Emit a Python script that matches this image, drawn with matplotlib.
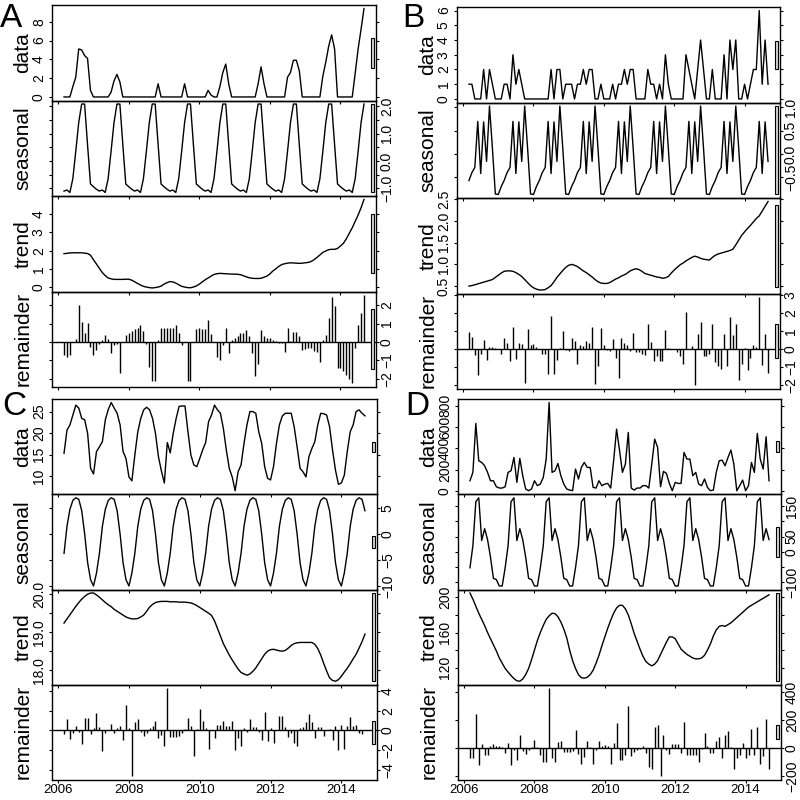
import numpy as np
import matplotlib
matplotlib.use("Agg")
import matplotlib.pyplot as plt
from matplotlib.patches import Rectangle

plt.rcParams['font.family'] = ['Liberation Sans', 'DejaVu Sans']

# ---------------- time axis (monthly, Mar 2006 .. Sep 2014) ----------------
first_month = 2006 + 2 / 12
n_months = 103
months = first_month + np.arange(n_months) / 12.0

x_ticks = [2006, 2008, 2010, 2012, 2014]
x_tick_labels = ['2006', '2008', '2010', '2012', '2014']
panel_names = ['data', 'seasonal', 'trend', 'remainder']

# ================= A =================
A_data = [0, 0, 0, 1.1, 2.1, 5.1, 5.0, 4.4, 4.1, 0.7,
          0, 0, 0, 0, 0, 0, 0.5, 1.7, 2.4, 1.6, 0, 0,
          0, 0, 0, 0, 0, 0, 0, 0, 0, 0, 1.4, 0,
          0, 0, 0, 0, 0, 0, 0, 1.4, 0, 0, 0, 0,
          0, 0, 0, 0.7, 0.2, 0, 0, 1.1, 2.6, 3.5, 1.4, 0,
          0, 0, 0, 0, 0, 0, 0, 0, 1.4, 3.2, 1.4, 0,
          0, 0, 0, 0, 0, 0, 2.1, 2.6, 3.9, 3.9, 2.8, 0,
          0, 0, 0, 0, 0, 0, 2.2, 3.7, 5.4, 6.6, 5.1, 0,
          0, 0, 0, 0, 0, 2.5, 5.1, 7.2, 9.4]
A_seasonal_cycle = [-1.10, -1.06, -1.15, -0.65, 0.35, 1.40, 2.08, 2.08, 0.60, -0.84, -0.94, -1.03]
A_trend = [1.83, 1.85, 1.87, 1.88, 1.88, 1.88, 1.88, 1.86, 1.84, 1.75,
           1.5, 1.27, 1.03, 0.8, 0.63, 0.5, 0.45, 0.42, 0.42, 0.42, 0.42, 0.43,
           0.43, 0.38, 0.29, 0.2, 0.11, 0.04, 0.0, -0.03, -0.05, -0.03, 0.0, 0.05,
           0.16, 0.24, 0.3, 0.28, 0.22, 0.13, 0.04, 0.0, -0.03, -0.04, 0.0, 0.06,
           0.16, 0.28, 0.4, 0.5, 0.6, 0.69, 0.73, 0.75, 0.74, 0.73, 0.72, 0.71,
           0.71, 0.7, 0.68, 0.62, 0.56, 0.51, 0.48, 0.47, 0.47, 0.48, 0.54, 0.6,
           0.72, 0.88, 1.0, 1.13, 1.23, 1.28, 1.31, 1.33, 1.32, 1.31, 1.3, 1.31,
           1.33, 1.35, 1.4, 1.5, 1.62, 1.76, 1.9, 1.98, 2.05, 2.07, 2.07, 2.12,
           2.25, 2.4, 2.65, 2.95, 3.25, 3.6, 3.95, 4.35, 4.8]
A_remainder = [-0.72, -0.8, -0.7, 0.0, 0.15, 2.0, 1.1, 0.5, 1.05, -0.25,
               -0.7, -0.45, -0.1, 0.1, 0.4, 0.15, -0.6, -0.15, -0.1, -1.7, 0.0, 0.4,
               0.5, 0.6, 0.7, 0.75, 0.95, 0.6, -0.1, -1.35, -2.1, -2.1, 0.1, 0.75,
               0.75, 0.75, 0.75, 0.75, 0.9, 0.5, -0.15, 0.0, -2.1, -2.1, 0.0, 0.7,
               0.75, 0.7, 0.7, 1.2, 0.45, 0.0, -0.8, -1.0, -0.15, 0.75, -0.6, 0.1,
               0.2, 0.35, 0.5, 0.5, 0.65, 0.35, -0.6, -1.85, -1.2, 0.65, 0.3, 0.2,
               0.2, 0.1, 0.05, -0.05, -0.05, -0.55, 0.75, 0.05, 0.55, 0.55, 0.3, -0.45,
               -0.4, -0.35, -0.35, -0.5, -0.55, -1.1, 0.1, 0.4, 1.3, 2.45, 1.95, -1.4,
               -1.4, -1.6, -1.8, -2.0, -2.25, -0.35, 0.95, 1.55, 2.55]
A_yticks = [[0, 2, 4, 6, 8], [-1, -0.5, 0, 0.5, 1, 1.5, 2], [0, 1, 2, 3, 4], [-2, -1, 0, 1, 2]]
A_ylabels = [['0', '2', '4', '6', '8'], ['\u22121.0', '', '0.0', '', '1.0', '', '2.0'],
             ['0', '1', '2', '3', '4'], ['\u22122', '\u22121', '0', '1', '2']]

# ================= B =================
B_data = [1, 1, 0, 0, 0, 2, 0, 2, 1, 0,
          0, 0, 1, 1, 0, 3, 1, 2, 1, 0, 0, 0,
          0, 0, 0, 0, 0, 0, 2, 0, 2, 2, 0, 1,
          1, 1, 0, 1, 1, 2, 1, 2, 2, 0, 0, 1,
          0, 0, 0, 1, 0, 1, 1, 2, 1, 2, 2, 0,
          0, 0, 0, 2, 1, 1, 0, 1, 0, 3, 1, 0,
          0, 0, 0, 0, 3, 2, 1, 0, 2, 4, 2, 0,
          0, 2, 0, 0, 0, 3, 0, 4, 2, 4, 0, 0,
          1, 0, 1, 2, 2, 6, 1, 4, 1]
B_seasonal_cycle = [-0.57, -0.40, -0.29, 0.70, -0.42, 0.69, -0.16, 1.03, 0.12, -0.86, -0.87, -0.70]
B_trend = [0.50, 0.51, 0.53, 0.55, 0.57, 0.59, 0.61, 0.63, 0.65, 0.7,
           0.75, 0.8, 0.84, 0.85, 0.85, 0.84, 0.81, 0.77, 0.72, 0.65, 0.58, 0.51,
           0.46, 0.43, 0.41, 0.41, 0.42, 0.46, 0.51, 0.6, 0.7, 0.78, 0.86, 0.93,
           0.98, 1.0, 0.98, 0.95, 0.9, 0.85, 0.81, 0.76, 0.71, 0.65, 0.6, 0.57,
           0.56, 0.56, 0.58, 0.62, 0.66, 0.69, 0.73, 0.76, 0.8, 0.85, 0.88, 0.9,
           0.88, 0.84, 0.79, 0.77, 0.75, 0.73, 0.71, 0.7, 0.68, 0.69, 0.72, 0.8,
           0.87, 0.93, 0.99, 1.03, 1.08, 1.12, 1.16, 1.19, 1.17, 1.14, 1.12, 1.11,
           1.1, 1.16, 1.21, 1.24, 1.26, 1.28, 1.3, 1.32, 1.35, 1.45, 1.56, 1.67,
           1.75, 1.83, 1.9, 1.98, 2.06, 2.12, 2.23, 2.34, 2.45]
B_remainder = [0.93, 0.63, -0.35, -1.45, -0.3, 0.5, -0.6, 0.1, 0.1, 0.05,
               0.0, -0.28, 0.6, 0.32, -0.68, 1.22, -0.55, 0.3, 0.25, -1.92, 1.1, 0.2,
               0.28, 0.08, 0.0, -0.3, -0.3, -1.38, 1.8, -1.38, -0.6, 0.05, 1.0, -0.05,
               -0.1, 0.62, 0.45, -0.85, 0.2, 0.15, 0.45, 0.3, 1.2, -1.97, -0.95, 1.15,
               0.2, -0.05, -0.1, 0.55, -0.5, -1.6, 0.58, 0.3, 0.2, -0.1, 0.85, -0.15,
               -0.15, -0.3, -0.35, 1.35, 0.4, -0.7, -0.4, -0.65, -0.7, 1.05, 0.02, 0.0,
               0.0, -0.2, -0.4, -0.85, 2.05, 0.0, 0.15, -2.03, 0.8, 1.5, -0.4, -0.38,
               -0.3, 1.4, -0.75, -0.95, -1.1, 0.8, -0.95, 1.75, 0.75, 1.35, -1.75, -0.85,
               0.05, -1.2, -0.5, 0.2, 0.1, 2.87, -0.9, 0.8, -1.35]
B_yticks = [[0, 1, 2, 3, 4, 5, 6], [-0.5, 0, 0.5, 1.0], [0.5, 1.0, 1.5, 2.0, 2.5], [-2, -1, 0, 1, 2, 3]]
B_ylabels = [['0', '1', '2', '3', '4', '5', '6'], ['\u22120.5', '0.0', '0.5', '1.0'],
             ['0.5', '1.0', '1.5', '2.0', '2.5'], ['\u22122', '\u22121', '0', '1', '2', '3']]

# ================= C =================
C_data = [15.3, 20.7, 21.9, 24.2, 26.5, 25.8, 23.4, 23.1, 19.9, 11.8,
          10.5, 15.7, 16.8, 18.0, 23.1, 25.5, 27.1, 25.8, 24.6, 21.9, 15.7, 14.1,
          9.8, 8.9, 14.9, 20.3, 23.4, 25.4, 26.0, 25.4, 23.4, 19.9, 14.5, 11.2,
          8.4, 17.8, 15.4, 19.9, 23.4, 26.2, 26.3, 26.3, 20.3, 14.9, 12.6, 12.2,
          14.1, 16.1, 17.8, 22.7, 24.2, 26.5, 25.4, 24.6, 21.1, 16.1, 11.8, 9.8,
          6.6, 11.0, 12.6, 17.6, 21.9, 25.0, 25.0, 24.6, 20.3, 17.6, 12.2, 9.5,
          9.1, 12.2, 17.6, 21.9, 24.0, 24.6, 24.6, 24.6, 21.5, 16.8, 11.8, 11.0,
          9.8, 14.5, 16.4, 18.0, 21.9, 24.6, 24.5, 24.2, 21.5, 16.1, 11.4, 8.1,
          8.4, 10.2, 15.7, 20.3, 21.9, 25.0, 25.4, 24.6, 24.0]
C_seasonal_cycle = [-3.7, 1.5, 4.8, 6.5, 7.0, 6.7, 4.5, 0.0, -5.5, -8.8, -10.0, -7.5]
C_trend = [19.24, 19.35, 19.46, 19.57, 19.68, 19.78, 19.87, 19.94, 20.0, 20.03,
           20.03, 19.98, 19.92, 19.85, 19.78, 19.72, 19.67, 19.6, 19.55, 19.5, 19.45, 19.4,
           19.37, 19.35, 19.35, 19.36, 19.4, 19.45, 19.55, 19.66, 19.73, 19.78, 19.8, 19.81,
           19.81, 19.81, 19.8, 19.8, 19.8, 19.79, 19.79, 19.79, 19.78, 19.77, 19.74, 19.7,
           19.65, 19.6, 19.55, 19.5, 19.44, 19.3, 19.1, 18.9, 18.7, 18.55, 18.4, 18.27,
           18.15, 18.03, 17.94, 17.9, 17.87, 17.9, 17.97, 18.06, 18.18, 18.3, 18.42, 18.5,
           18.54, 18.55, 18.53, 18.51, 18.5, 18.52, 18.58, 18.65, 18.7, 18.72, 18.73, 18.73,
           18.73, 18.73, 18.73, 18.68, 18.57, 18.4, 18.18, 17.98, 17.8, 17.73, 17.71, 17.75,
           17.84, 17.95, 18.05, 18.17, 18.3, 18.42, 18.58, 18.75, 18.95]
C_remainder = [-0.35, 1.2, -0.9, -0.25, 0.4, -0.2, -1.4, 1.3, 1.3, -0.35,
               0.25, 1.75, 0.35, -2.1, -0.3, 0.0, 0.7, -0.25, 0.2, 0.5, -1.0, 2.6,
               0.25, -4.7, 0.85, 1.15, -0.2, -0.6, -0.3, 0.2, 0.4, 1.0, -0.75, -0.5,
               -1.6, 4.3, -0.65, -0.65, -0.65, -0.6, -0.3, 0.1, 1.3, 0.5, -2.6, 0.1,
               2.2, 1.0, 0.2, -1.9, 0.0, -0.8, 0.6, 0.55, 1.0, 0.4, 0.4, 1.0,
               -2.0, -0.8, -1.6, 0.2, -0.2, 1.2, 0.3, 0.3, -0.2, -1.0, 1.85, -1.1,
               0.2, -1.3, 0.05, 1.5, 1.5, 0.35, -0.65, -0.3, -1.3, -1.6, 0.25, 0.35,
               0.9, 1.7, 0.9, -0.8, 0.3, 0.3, -0.6, 0.0, 0.15, -1.0, 0.5, -2.0,
               0.55, -1.85, 0.5, 1.4, 0.4, 0.6, -0.3, -0.4, 0.0]
C_yticks = [[10, 15, 20, 25], [-10, -5, 0, 5], [18.0, 18.5, 19.0, 19.5, 20.0], [-4, -2, 0, 2, 4]]
C_ylabels = [['10', '15', '20', '25'], ['\u221210', '\u22125', '0', '5'],
             ['18.0', '', '19.0', '', '20.0'], ['\u22124', '\u22122', '0', '2', '4']]

# ================= D =================
D_data = [99, 177, 633, 285, 270, 239, 177, 99, 99, 43,
          31, 31, 43, 177, 192, 316, 84, 307, 146, 22, 6, 22,
          99, 53, 68, 130, 301, 828, 177, 192, 260, 146, 68, 22,
          12, 6, 208, 115, 223, 270, 223, 223, 37, 31, 99, 53,
          68, 74, 31, 285, 580, 385, 177, 254, 549, 31, 12, 31,
          31, 53, 53, 31, 254, 487, 409, 43, 186, 167, 74, 6,
          84, 74, 74, 363, 301, 301, 146, 177, 68, 53, 115, 37,
          6, 12, 177, 285, 291, 239, 316, 385, 254, 6, 53, 105,
          6, 53, 270, 177, 540, 301, 208, 509, 99]
D_seasonal_cycle = [-53, 20, 165, 178, 37, 76, 40, -18, -88, -92, -113, -113]
D_trend = [205, 198, 190, 182, 175, 168, 160, 153, 146, 139,
           131, 125, 119, 115, 111, 107.5, 105, 104.5, 107, 112, 119, 129,
           140, 151, 160, 168, 175, 179, 182, 181.5, 178, 172, 164, 154,
           140, 128, 119, 112, 108.5, 108, 109, 112, 117, 125, 134, 145,
           155, 165, 174, 182, 188, 191, 191, 187, 180, 170, 159, 150,
           141, 133, 127, 124, 122, 124, 128, 135, 142, 149, 155, 155,
           153, 147, 141, 138, 135, 133, 131, 130, 130, 131, 134, 140,
           147, 156, 163, 167, 168, 167, 169, 171, 174, 177, 180, 183,
           186, 189, 191, 193, 195, 197, 199, 201, 203]
D_remainder = [-65, -65, 245, -115, 30, -45, -45, 20, 35, 15,
               15, 10, -30, 40, -120, -10, -85, 95, -20, -40, -10, 10,
               60, 10, -50, -95, -95, 430, -70, -95, 45, 50, -25, -25,
               -25, -20, 130, -40, -110, -60, 50, 10, -110, -10, 50, 15,
               25, 15, -110, 40, 185, -85, -85, -45, 300, -55, -25, -10,
               -5, 20, -30, -130, -145, 150, 170, -200, 95, -10, -40, 30,
               35, 35, -35, 190, -50, -50, -50, -50, -100, -5, 110, 20,
               -30, -30, 55, 80, -65, 95, 125, 10, -150, -70, -50, 40,
               -70, -50, 140, -50, 150, -110, -55, 210, -150]
D_yticks = [[0, 200, 400, 600, 800], [-100, -50, 0, 50, 100, 150], [120, 140, 160, 180, 200], [-200, 0, 200, 400]]
D_ylabels = [['0', '200', '400', '600', '800'], ['\u2212100', '', '0', '50', '', '150'],
             ['120', '', '160', '', '200'], ['\u2212200', '0', '200', '400']]

W = H = 800


def draw_stl(fig, box, data, seas_cycle, trend, rem, yticks, ylabels, show_xlabels):
    left, right, top, bottom = box
    seasonal = np.resize(np.asarray(seas_cycle, float), n_months)
    comps = [np.asarray(data, float), seasonal, np.asarray(trend, float), np.asarray(rem, float)]
    mx = min(c.max() - c.min() for c in comps)
    span = months[-1] - months[0]
    xlim = (months[0] - 0.04 * span, months[-1] + 0.04 * span)
    dx = (xlim[1] - xlim[0]) / 64
    ph = (bottom - top) / 4
    for k in range(4):
        y0 = top + k * ph
        ax = fig.add_axes([left / W, 1 - (y0 + ph) / H, (right - left) / W, ph / H])
        ax.patch.set_visible(False)
        c = comps[k]
        lo, hi = c.min(), c.max()
        pad = 0.04 * (hi - lo)
        ax.set_xlim(xlim)
        ax.set_ylim(lo - pad, hi + pad)
        if k < 3:
            ax.plot(months, c, color='black', lw=1.0)
        else:
            ax.axhline(0, color='black', lw=1.0)
            ax.vlines(months, 0, c, color='black', lw=1.0)
        ymid = (lo + hi) / 2
        ax.add_patch(Rectangle((xlim[1] - dx, ymid - mx / 2), 0.6 * dx, mx,
                               facecolor='#d3d3d3', edgecolor='black', lw=0.8,
                               clip_on=False, zorder=5))
        for s in ax.spines.values():
            s.set_linewidth(1.0)
        # x axis
        ax.set_xticks(x_ticks)
        ax.set_xticklabels(x_tick_labels)
        ax.tick_params(axis='x', bottom=True, top=False, direction='out', length=2.2,
                       width=0.8, labelsize=9.5, pad=1,
                       labelbottom=(k == 3 and show_xlabels))
        # y axis
        on_right = (k % 2 == 1)
        ax.set_yticks(yticks[k])
        ax.set_yticklabels(ylabels[k])
        ax.tick_params(axis='y', left=True, right=True, direction='out', length=2.2,
                       width=0.8, labelsize=10, labelrotation=90,
                       labelleft=not on_right, labelright=on_right,
                       pad=0.6 if on_right else 2.2)
        for tk in ax.yaxis.get_major_ticks():
            tk.label1.set_va('center')
            tk.label1.set_ha('right')
            tk.label2.set_va('center')
            tk.label2.set_ha('left')
        fig.text((left - 29) / W, 1 - (y0 + ph / 2) / H, panel_names[k], rotation=90,
                 ha='center', va='center', fontsize=15)


fig = plt.figure(figsize=(8, 8), dpi=100)

draw_stl(fig, (52, 376, 5, 387), A_data, A_seasonal_cycle, A_trend, A_remainder, A_yticks, A_ylabels, False)
draw_stl(fig, (457, 780, 7, 389), B_data, B_seasonal_cycle, B_trend, B_remainder, B_yticks, B_ylabels, False)
draw_stl(fig, (52, 377, 399, 780), C_data, C_seasonal_cycle, C_trend, C_remainder, C_yticks, C_ylabels, True)
draw_stl(fig, (458, 781, 399, 780), D_data, D_seasonal_cycle, D_trend, D_remainder, D_yticks, D_ylabels, True)

for letter, (lx, ly) in zip(['A', 'B', 'C', 'D'], [(0, 27), (402, 27), (2, 415), (405, 415)]):
    fig.text(lx / W, 1 - ly / H, letter, fontsize=24, ha='left', va='baseline')

fig.savefig('out.png', dpi=100)
